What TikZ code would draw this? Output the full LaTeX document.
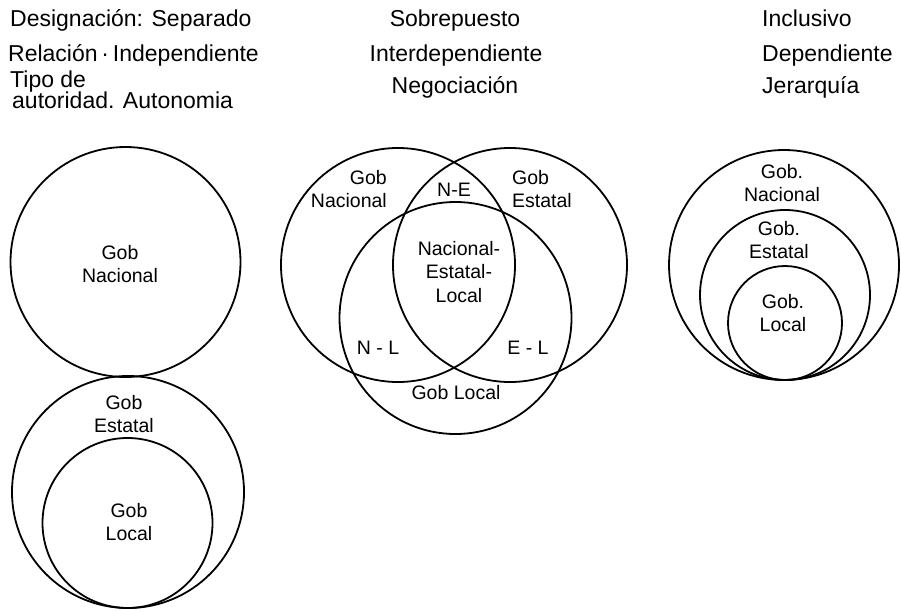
\documentclass[tikz,border=0pt]{standalone}
\usepackage{fontspec}
\setmainfont{Liberation Sans}
\begin{document}
\begin{tikzpicture}[x=1pt,y=-1pt,
  circ/.style={draw, circle, line width=1.8pt, inner sep=0pt, outer sep=0pt},
  head/.style={inner sep=0pt, font=\fontsize{23}{26}\selectfont},
  lab/.style={inner sep=0pt, align=center, font=\fontsize{19.5}{23.5}\selectfont}]
\useasboundingbox[fill=white] (0,0) rectangle (901,610);
% headers
\node[head, anchor=base west] (h1) at (10,27) {Designación: Separado};
\node[head, anchor=base west] (h2) at (8,62) {Relación\,·\,Independiente};
\node[head, anchor=base west, text depth=0pt] (h3) at (10,87) {Tipo de};
\node[head, anchor=base west, text height=14pt] (h4) at (12,108) {autoridad. Autonomia};
\node[head, anchor=base] (m1) at (455,27) {Sobrepuesto};
\node[head, anchor=base] (m2) at (456,62) {Interdependiente};
\node[head, anchor=base] (m3) at (455,93) {Negociación};
\node[head, anchor=base west] (r1) at (762,27) {Inclusivo};
\node[head, anchor=base west] (r2) at (762,62) {Dependiente};
\node[head, anchor=base west] (r3) at (762,93) {Jerarquía};
% left group
\node[circ, minimum size=230pt] (ln) at (125.5,262) {};
\node[circ, minimum size=232pt] (le) at (128,492) {};
\node[circ, minimum size=170pt] (ll) at (127.5,523) {};
\node[lab] (lnt) at (120,264) {Gob\\Nacional};
\node[lab] (let) at (124,414) {Gob\\Estatal};
\node[lab] (llt) at (129,522) {Gob\\Local};
% middle group (Venn)
\node[circ, minimum size=234pt] (vn) at (398,265) {};
\node[circ, minimum size=234pt] (ve) at (510,265) {};
\node[circ, minimum size=232pt] (vl) at (455.5,318) {};
\node[lab, align=right, anchor=east] (vnt) at (387,189) {Gob\\Nacional};
\node[lab, align=left, anchor=west] (vet) at (512,189) {Gob\\Estatal};
\node[lab] (vne) at (454,190) {N-E};
\node[lab] (vnel) at (459,272) {Nacional-\\Estatal-\\Local};
\node[lab] (vnl) at (378,348) {N - L};
\node[lab] (vel) at (528,348) {E - L};
\node[lab] (vlt) at (456,393) {Gob Local};
% right group (nested)
\node[circ, minimum size=230pt] (rn) at (784,265) {};
\node[circ, minimum size=170pt] (re) at (785,295) {};
\node[circ, minimum size=114pt] (rl) at (785,323) {};
\node[lab] (rnt) at (782,183) {Gob.\\Nacional};
\node[lab] (ret) at (779,240) {Gob.\\Estatal};
\node[lab] (rlt) at (783,313) {Gob.\\Local};
\end{tikzpicture}
\end{document}
